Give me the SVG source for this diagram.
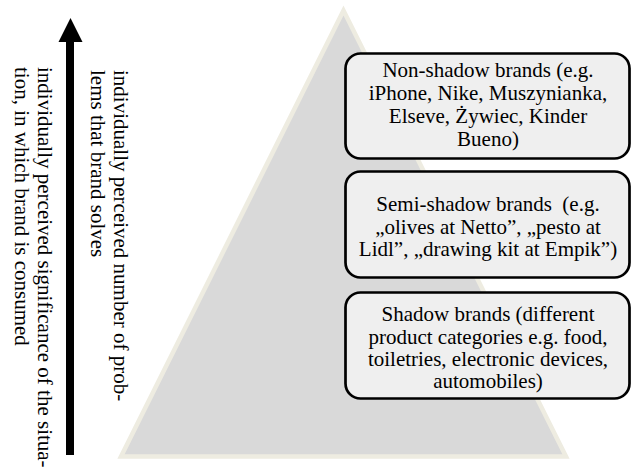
<svg xmlns="http://www.w3.org/2000/svg" width="631" height="470" viewBox="0 0 631 470">
<defs>
<style>
text{font-family:"Liberation Serif","DejaVu Serif",serif;font-size:21px}
.box rect{fill:#EFEFEF;stroke:#000;stroke-width:2.7}
.box text{text-anchor:middle}
</style>
</defs>
<rect width="631" height="470" fill="#fff"/>
<g id="pyramid">
<polygon points="343.5,10.5 121,456.5 566,456.5" fill="#D9D9D9" stroke="#EEECE1" stroke-width="4.5" stroke-linejoin="miter"/>
</g>
<g id="connectors">
<line x1="70" y1="455" x2="70" y2="40" stroke="#000" stroke-width="8"/>
<polygon points="70.5,18 82.5,42 58.5,42" fill="#000"/>
</g>
<g id="axis-labels">
<text transform="translate(114,70) rotate(90)">individually perceived number of prob-</text>
<text transform="translate(91,70) rotate(90)">lems that brand solves</text>
<text transform="translate(38,67) rotate(90)">individually perceived significance of the situa-</text>
<text transform="translate(15,67) rotate(90)">tion, in which brand is consumed</text>
</g>
<g id="non-shadow" class="box">
<rect x="345.5" y="53.5" width="284" height="105" rx="15"/>
<text x="488" y="77">Non-shadow brands (e.g.</text>
<text x="488" y="100">iPhone, Nike, Muszynianka,</text>
<text x="488" y="123">Elseve, Żywiec, Kinder</text>
<text x="488" y="146">Bueno)</text>
</g>
<g id="semi-shadow" class="box">
<rect x="345.5" y="171.5" width="284" height="106" rx="15"/>
<text x="488" y="211" xml:space="preserve">Semi-shadow brands  (e.g.</text>
<text x="488" y="233.5">„olives at Netto”, „pesto at</text>
<text x="488" y="256">Lidl”, „drawing kit at Empik”)</text>
</g>
<g id="shadow" class="box">
<rect x="345.5" y="292.5" width="284" height="106" rx="15"/>
<text x="488" y="321">Shadow brands (different</text>
<text x="488" y="343.5">product categories e.g. food,</text>
<text x="488" y="366">toiletries, electronic devices,</text>
<text x="488" y="388">automobiles)</text>
</g>
</svg>
